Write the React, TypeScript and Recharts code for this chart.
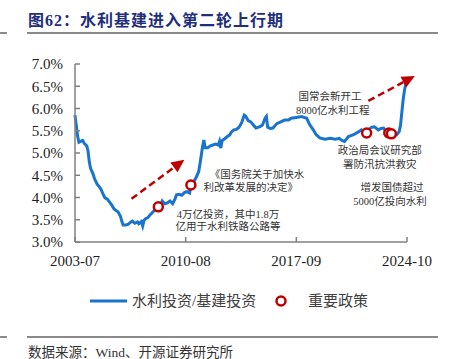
import { ComposedChart, Line, Scatter, XAxis, YAxis, ReferenceLine, ReferenceDot } from "recharts";

// month offsets from 2003-07, and 水利投资/基建投资 ratio (%)
const monthIdx = [
  0, 1, 2, 3, 5, 6, 7, 9, 10, 11, 12, 14, 15, 17, 19, 20, 22, 23, 25, 26, 28, 30, 31, 33, 35, 36, 37, 39, 41,
  43, 44, 46, 48, 49, 51, 52, 53, 54, 56, 58, 60, 62, 64, 66, 67, 69, 71, 73, 75, 77, 78, 80, 82, 84, 86, 88,
  89, 91, 93, 95, 96, 97, 98, 99, 100, 102, 104, 106, 108, 110, 111, 112, 113, 115, 117, 119, 120, 122, 124,
  126, 128, 130, 131, 133, 135, 137, 139, 142, 144, 146, 147, 148, 150, 152, 155, 158, 161, 164, 166, 170,
  174, 178, 180, 183, 185, 188, 192, 196, 200, 203, 205, 207, 210, 214, 218, 220, 222, 224, 226, 228, 230,
  233, 235, 237, 239, 241, 243, 245, 247, 249, 250, 251, 252, 253, 254, 255,
];
const ratio = [
  5.85, 5.62, 5.38, 5.24, 5.27, 5.28, 5.22, 5.16, 5.05, 4.8, 4.65, 4.52, 4.42, 4.3, 4.23, 4.18, 4.05, 3.99, 3.96,
  3.92, 3.84, 3.74, 3.72, 3.68, 3.57, 3.46, 3.38, 3.38, 3.4, 3.45, 3.47, 3.42, 3.45, 3.41, 3.46, 3.36, 3.48, 3.52,
  3.55, 3.62, 3.68, 3.74, 3.79, 3.84, 3.92, 3.86, 3.88, 3.92, 3.86, 3.98, 4.06, 4.07, 4.05, 4.11, 4.13, 4.1,
  4.28, 4.34, 4.45, 4.58, 4.76, 4.95, 5.15, 5.29, 5.12, 5.12, 5.16, 5.18, 5.2, 5.18, 5.26, 5.11, 5.28, 5.32,
  5.37, 5.41, 5.47, 5.52, 5.53, 5.58, 5.68, 5.85, 5.83, 5.73, 5.7, 5.63, 5.56, 5.59, 5.63, 5.78, 5.82, 5.58,
  5.55, 5.56, 5.66, 5.7, 5.74, 5.74, 5.78, 5.8, 5.82, 5.78, 5.65, 5.52, 5.42, 5.34, 5.31, 5.33, 5.31, 5.33,
  5.28, 5.26, 5.37, 5.41, 5.48, 5.52, 5.48, 5.45, 5.54, 5.58, 5.59, 5.52, 5.55, 5.56, 5.48, 5.45, 5.43, 5.42,
  5.41, 5.48, 5.62, 5.9, 6.19, 6.4, 6.55, 6.66,
];

// 重要政策 markers
const policyIdx = [64, 89, 224, 241, 243];
const policyRatio = [3.79, 4.28, 5.45, 5.45, 5.43];

const xTicks = [0, 85, 170, 255];
const xTickLabels = ["2003-07", "2010-08", "2017-09", "2024-10"];
const yTicks = [3, 3.5, 4, 4.5, 5, 5.5, 6, 6.5, 7];

// annotations, anchored in data space
const noteText = [
  "国常会新开工",
  "8000亿水利工程",
  "政治局会议研究部",
  "署防汛抗洪救灾",
  "增发国债超过",
  "5000亿投向水利",
  "《国务院关于加快水",
  "利改革发展的决定》",
  "4万亿投资，其中1.8万",
  "亿用于水利铁路公路等",
];
const noteIdx = [195.8, 198, 234, 234, 243.5, 242, 139.8, 135, 117.5, 117.5];
const noteRatio = [6.26, 5.96, 5.05, 4.75, 4.22, 3.9, 4.51, 4.22, 3.61, 3.34];

const arrowFrom = [
  { x: 43.4, y: 3.97 },
  { x: 225.3, y: 6.17 },
];
const arrowTo = [
  { x: 84, y: 4.85 },
  { x: 261, y: 6.73 },
];

const BLUE = "#1874CD";
const RED = "#C00000";
const AXIS = "#808080";
const SERIF = "'Liberation Serif', 'Noto Sans CJK SC', serif";

const series = monthIdx.map((m, i) => ({ m, v: ratio[i] }));
const policies = policyIdx.map((m, i) => ({ m, v: policyRatio[i] }));

const Arrow = (p: any) => {
  const { x1, y1, x2, y2 } = p;
  const ang = Math.atan2(y2 - y1, x2 - x1);
  const len = 13;
  const half = 6;
  const bx = x2 - len * Math.cos(ang);
  const by = y2 - len * Math.sin(ang);
  const nx = -Math.sin(ang);
  const ny = Math.cos(ang);
  return (
    <g>
      <line x1={x1} y1={y1} x2={bx} y2={by} stroke={RED} strokeWidth={2.5} strokeDasharray="7 4" />
      <polygon
        points={`${x2},${y2} ${bx + nx * half},${by + ny * half} ${bx - nx * half},${by - ny * half}`}
        fill={RED}
      />
    </g>
  );
};

const PolicyDot = (p: any) => (
  <circle cx={p.cx} cy={p.cy} r={4.5} fill="#fff" stroke={RED} strokeWidth={2.5} />
);

export default function App() {
  return (
    <div
      style={{
        position: "absolute",
        left: 0,
        top: 0,
        width: 458,
        height: 359,
        background: "#fff",
        fontFamily: SERIF,
        overflow: "hidden",
      }}
    >
      <div
        style={{
          position: "absolute",
          left: 28,
          top: 7,
          fontSize: 16,
          fontWeight: "bold",
          letterSpacing: 1,
          color: "#1f2f7c",
          whiteSpace: "nowrap",
        }}
      >
        图62：水利基建进入第二轮上行期
      </div>
      <div style={{ position: "absolute", left: 27, top: 32, width: 411, height: 2, background: "#8a8a8a" }} />
      <div style={{ position: "absolute", left: 0, top: 32, width: 7, height: 2, background: "#8a8a8a" }} />

      <div style={{ position: "absolute", left: 0, top: 0 }}>
        <ComposedChart width={458} height={359} margin={{ top: 64, right: 51, bottom: 87, left: 0 }}>
          <XAxis
            dataKey="m"
            type="number"
            domain={[0, 255]}
            ticks={xTicks}
            tickFormatter={(v: number) => xTickLabels[xTicks.indexOf(v)] ?? ""}
            height={30}
            tickSize={-5}
            tickMargin={18}
            axisLine={{ stroke: AXIS, strokeWidth: 1.5 }}
            tickLine={{ stroke: AXIS, strokeWidth: 1.5 }}
            tick={{ fill: "#222", fontSize: 15, fontFamily: SERIF }}
            interval={0}
          />
          <YAxis
            type="number"
            domain={[3, 7]}
            ticks={yTicks}
            tickFormatter={(v: number) => v.toFixed(1) + "%"}
            width={75}
            tickSize={-5}
            tickMargin={17}
            axisLine={{ stroke: AXIS, strokeWidth: 1.5 }}
            tickLine={{ stroke: AXIS, strokeWidth: 1.5 }}
            tick={{ fill: "#222", fontSize: 15, fontFamily: SERIF }}
            interval={0}
          />
          <Line
            data={series}
            dataKey="v"
            type="linear"
            stroke={BLUE}
            strokeWidth={3}
            dot={false}
            activeDot={false}
            isAnimationActive={false}
          />
          {arrowFrom.map((f, i) => (
            <ReferenceLine key={"a" + i} segment={[f, arrowTo[i]]} ifOverflow="visible" shape={Arrow} />
          ))}
          <Scatter data={policies} dataKey="v" shape={PolicyDot} isAnimationActive={false} />
          {noteText.map((t, i) => (
            <ReferenceDot
              key={"n" + i}
              x={noteIdx[i]}
              y={noteRatio[i]}
              ifOverflow="visible"
              shape={(p: any) => (
                <text
                  x={p.cx}
                  y={p.cy}
                  textAnchor="middle"
                  dominantBaseline="central"
                  fontSize={10.5}
                  fontFamily={SERIF}
                  fill="#333"
                >
                  {t}
                </text>
              )}
            />
          ))}
        </ComposedChart>
      </div>

      {/* legend */}
      <svg style={{ position: "absolute", left: 0, top: 290 }} width={458} height={24}>
        <line x1={90} y1={11} x2={127} y2={11} stroke={BLUE} strokeWidth={3} />
        <text x={132} y={11} dominantBaseline="central" fontSize={15} fill="#404040" fontFamily={SERIF}>
          水利投资/基建投资
        </text>
        <circle cx={281} cy={11} r={4.5} fill="#fff" stroke={RED} strokeWidth={2.5} />
        <text x={308} y={11} dominantBaseline="central" fontSize={15} fill="#404040" fontFamily={SERIF}>
          重要政策
        </text>
      </svg>

      <div style={{ position: "absolute", left: 27, top: 336, width: 411, height: 2, background: "#8a8a8a" }} />
      <div style={{ position: "absolute", left: 0, top: 336, width: 7, height: 2, background: "#8a8a8a" }} />
      <div
        style={{
          position: "absolute",
          left: 28,
          top: 341,
          fontSize: 13.5,
          color: "#333",
          whiteSpace: "nowrap",
        }}
      >
        数据来源：Wind、开源证券研究所
      </div>
    </div>
  );
}
